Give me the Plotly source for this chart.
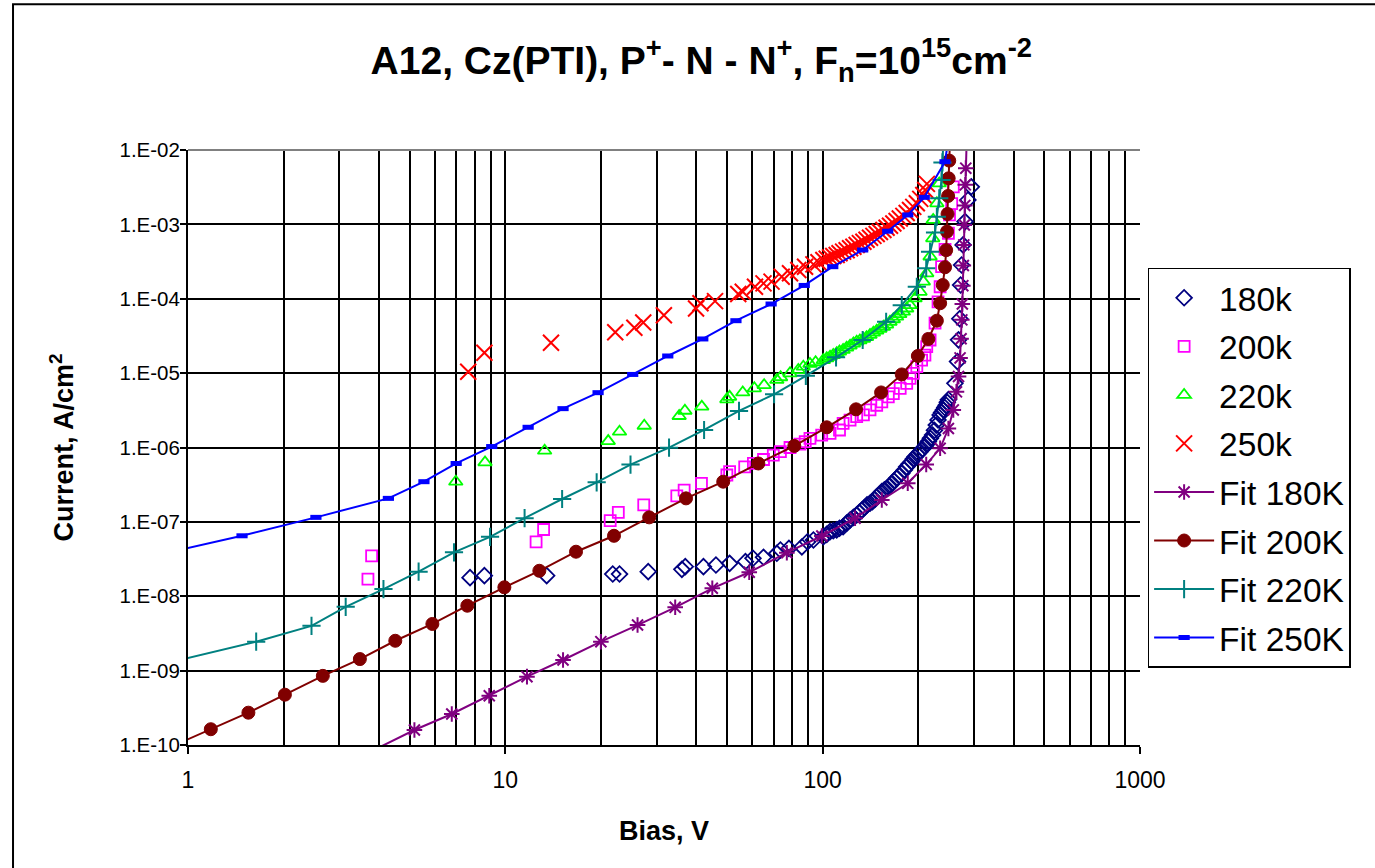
import plotly.graph_objects as go

# ---------------- data ----------------
# Measured points
v_180k = [7.74, 8.59, 13.5, 21.8, 22.9, 28.2, 36.0, 36.9, 42.1, 46.1, 50.9, 57.1, 60.3, 65.1,
          71.7, 73.6, 78.3, 86.0, 89.6, 93.5, 100.5, 105.5, 110.7, 116, 122, 128, 133, 138,
          143.5, 148, 153.6, 159.6, 165.5, 171, 177.5, 184, 190.5, 195.5, 202.7, 210, 215.3,
          222, 228, 234.5, 240, 245, 249, 261, 266, 268, 270.5, 272, 274, 277, 281, 287, 294,
          103, 108, 113, 119, 125, 130.5, 135.5, 141, 146, 151, 156.5, 162.5, 168, 174, 181,
          187, 193, 199, 206, 212.5, 218.5, 225, 231, 237, 242.5, 247]
i_180k = [1.78e-8, 1.89e-8, 1.89e-8, 1.99e-8, 1.99e-8, 2.14e-8, 2.3e-8, 2.5e-8, 2.5e-8, 2.63e-8,
          2.77e-8, 2.92e-8, 3.24e-8, 3.34e-8, 3.78e-8, 4.19e-8, 4.4e-8, 4.6e-8, 5.4e-8, 5.7e-8,
          6.3e-8, 7.4e-8, 7.8e-8, 8.6e-8, 1.06e-7, 1.24e-7, 1.44e-7, 1.69e-7, 1.87e-7, 2.18e-7,
          2.55e-7, 2.83e-7, 3.3e-7, 3.85e-7, 4.5e-7, 5.5e-7, 6.44e-7, 7.5e-7, 8.8e-7, 1.03e-6,
          1.2e-6, 1.47e-6, 2.0e-6, 2.74e-6, 3.2e-6, 3.7e-6, 4.4e-6, 7.3e-6, 1.43e-5, 2.8e-5,
          5.4e-5, 1.53e-4, 2.84e-4, 5.3e-4, 1.09e-3, 2.13e-3, 3.2e-3,
          6.8e-8, 7.6e-8, 8.2e-8, 9.6e-8, 1.15e-7, 1.34e-7, 1.56e-7, 1.78e-7, 2.0e-7, 2.35e-7,
          2.7e-7, 3.05e-7, 3.55e-7, 4.15e-7, 5.0e-7, 5.95e-7, 7.0e-7, 8.1e-7, 9.5e-7, 1.1e-6,
          1.33e-6, 1.7e-6, 2.35e-6, 2.95e-6, 3.45e-6, 4.05e-6]

v_200k = [3.69, 3.79, 12.5, 13.2, 21.4, 22.7, 27.3, 34.7, 36.6, 41.5, 49.9, 50.9, 56.8, 60.5,
          65.1, 69.9, 73.6, 78.9, 84.8, 88.1, 91.2, 99.3, 105.5, 113, 116, 122, 128, 134.4, 141,
          148, 153.6, 161, 167, 175.5, 184, 188.5, 193, 198, 205, 210, 212.8, 218, 226, 231,
          234.5, 237, 243, 249, 251, 255, 258]
i_200k = [1.7e-8, 3.48e-8, 5.4e-8, 7.9e-8, 1.04e-7, 1.34e-7, 1.69e-7, 2.23e-7, 2.68e-7, 3.3e-7,
          4.27e-7, 4.73e-7, 5.5e-7, 6.1e-7, 6.9e-7, 7.9e-7, 8.8e-7, 1.0e-6, 1.11e-6, 1.2e-6,
          1.33e-6, 1.47e-6, 1.55e-6, 1.72e-6, 2.11e-6, 2.34e-6, 2.6e-6, 2.74e-6, 3.2e-6, 3.7e-6,
          4.1e-6, 4.8e-6, 5.3e-6, 6.25e-6, 7.3e-6, 8.5e-6, 9.95e-6, 1.22e-5, 1.5e-5, 1.75e-5,
          2.27e-5, 2.79e-5, 4.7e-5, 9.1e-5, 1.45e-4, 2.7e-4, 4.6e-4, 7.6e-4, 1.34e-3, 1.9e-3,
          3.2e-3]

v_220k = [6.98, 8.63, 13.3, 21.1, 22.9, 27.4, 35.3, 36.8, 41.6, 49.9, 50.9, 56, 60.9, 65.4, 71.7,
          73.7, 78.9, 83.8, 86.9, 91.2, 95, 100.5, 105.5, 110.7, 116, 122, 128, 134.4, 141, 148,
          155.4, 163, 171, 179.6, 188.5, 195.5, 202.7, 207.6, 212.8, 218, 222.3, 223, 229, 233,
          103, 108, 113, 119, 125, 131, 137.5, 144.5, 151.5, 159, 167, 175, 184]
i_220k = [3.47e-7, 6.3e-7, 9.06e-7, 1.22e-6, 1.63e-6, 1.96e-6, 2.65e-6, 3.12e-6, 3.54e-6,
          4.45e-6, 4.8e-6, 5.5e-6, 6.25e-6, 6.9e-6, 8.1e-6, 8.8e-6, 9.95e-6, 1.1e-5, 1.22e-5,
          1.33e-5, 1.4e-5, 1.5e-5, 1.66e-5, 1.85e-5, 2.05e-5, 2.34e-5, 2.65e-5, 2.88e-5, 3.26e-5,
          3.72e-5, 4.2e-5, 4.9e-5, 5.74e-5, 6.7e-5, 8.2e-5, 1.01e-4, 1.24e-4, 1.7e-4, 2.2e-4,
          3.7e-4, 6.5e-4, 1.15e-3, 1.92e-3, 3.56e-3,
          1.58e-5, 1.75e-5, 1.95e-5, 2.2e-5, 2.5e-5, 2.75e-5, 3.05e-5, 3.5e-5, 3.95e-5, 4.5e-5,
          5.3e-5, 6.2e-5, 7.4e-5]

v_250k = [7.64, 8.59, 13.93, 22.2, 25.5, 27.2, 31.6, 39.9, 41.2, 45.8, 54.2, 56, 61.2, 65.1, 69.0,
          74.3, 78.9, 83.8, 88, 93.5, 100.5, 105.5, 110.7, 116, 122, 128, 134.4, 141, 148, 155.4,
          163, 171, 179.6, 188.5, 198, 207.6, 213,
          97, 103, 108, 113, 119, 125, 131, 137.5, 144.5, 151.5, 159, 167, 175, 184, 193, 203,
          210.5]
i_250k = [1.045e-5, 1.88e-5, 2.56e-5, 3.54e-5, 4.08e-5, 4.8e-5, 6.0e-5, 7.4e-5, 8.7e-5, 9.3e-5,
          1.16e-4, 1.24e-4, 1.45e-4, 1.61e-4, 1.7e-4, 1.98e-4, 2.2e-4, 2.43e-4, 2.7e-4, 2.9e-4,
          3.32e-4, 3.6e-4, 3.87e-4, 4.3e-4, 4.77e-4, 5.28e-4, 5.85e-4, 6.62e-4, 7.42e-4, 8.4e-4,
          9.6e-4, 1.11e-3, 1.30e-3, 1.56e-3, 1.92e-3, 2.48e-3, 3.5e-3,
          3.1e-4, 3.45e-4, 3.75e-4, 4.1e-4, 4.5e-4, 5.0e-4, 5.6e-4, 6.2e-4, 7.0e-4, 7.9e-4,
          9.0e-4, 1.03e-3, 1.2e-3, 1.42e-3, 1.72e-3, 2.2e-3, 2.9e-3]

# Fitted curves
v_fit180 = [3.5, 5.17, 6.78, 8.9, 11.7, 15.2, 20.0, 26.1, 34.3, 44.9, 58.7, 77.1, 99.4, 126.5,
            153.6, 185.4, 212, 234.5, 249, 258, 264, 268, 271, 273, 274.5, 275.5, 276.5, 277.5,
            278.5, 279.5, 280.5, 281.5, 282.5, 285]
i_fit180 = [7e-11, 1.59e-10, 2.61e-10, 4.6e-10, 8.3e-10, 1.39e-9, 2.45e-9, 4.1e-9, 7.1e-9,
            1.28e-8, 2.1e-8, 3.85e-8, 6.46e-8, 1.12e-7, 1.97e-7, 3.3e-7, 5.9e-7, 9.75e-7, 1.8e-6,
            3.2e-6, 5.6e-6, 9e-6, 1.6e-5, 2.9e-5, 5.2e-5, 8.5e-5, 1.5e-4, 2.8e-4, 5.3e-4, 9.8e-4,
            1.8e-3, 3.4e-3, 5.7e-3, 2e-2]

v_fit200 = [0.9, 1.18, 1.55, 2.02, 2.66, 3.48, 4.50, 5.89, 7.59, 9.93, 12.8, 16.7, 22.0, 28.4,
            37.1, 48.6, 62.7, 81.4, 103, 127.4, 152.8, 177.5, 199.5, 215.3, 229, 234.5, 239, 243,
            245, 246.5, 247.5, 248.5, 249.5, 250.5, 253]
i_fit200 = [9.8e-11, 1.63e-10, 2.72e-10, 4.75e-10, 8.5e-10, 1.43e-9, 2.52e-9, 4.24e-9, 7.46e-9,
            1.32e-8, 2.2e-8, 3.97e-8, 6.5e-8, 1.15e-7, 2.07e-7, 3.47e-7, 6.1e-7, 1.05e-6, 1.87e-6,
            3.26e-6, 5.5e-6, 9.6e-6, 1.7e-5, 2.88e-5, 5.07e-5, 8.7e-5, 1.53e-4, 2.65e-4, 4.5e-4,
            8e-4, 1.38e-3, 2.41e-3, 4.16e-3, 7.2e-3, 2e-2]

v_fit220 = [0.9, 1.64, 2.45, 3.14, 4.13, 5.33, 6.89, 8.95, 11.5, 15.1, 19.4, 24.8, 32.8, 42.3,
            54.5, 70.3, 88.5, 110.2, 133.7, 158.5, 177.5, 198, 212, 218, 226, 229, 233, 237,
            238.5, 241]
i_fit220 = [1.33e-9, 2.45e-9, 4.0e-9, 7.2e-9, 1.25e-8, 2.14e-8, 3.9e-8, 6.3e-8, 1.12e-7, 2.03e-7,
            3.4e-7, 5.9e-7, 9.95e-7, 1.72e-6, 3.1e-6, 5.2e-6, 9.2e-6, 1.63e-5, 2.79e-5, 4.9e-5,
            8.2e-5, 1.45e-4, 2.57e-4, 4.3e-4, 7.8e-4, 1.27e-3, 2.24e-3, 3.95e-3, 6.8e-3, 2e-2]

v_fit250 = [0.87, 1.48, 2.53, 4.28, 5.54, 7.0, 9.06, 11.8, 15.2, 19.6, 25.2, 32.5, 41.9, 53.3,
            68.8, 87.5, 107.6, 133.7, 160.3, 185.4, 209, 243, 252]
i_fit250 = [3.9e-8, 6.5e-8, 1.15e-7, 2.07e-7, 3.47e-7, 6.1e-7, 1.03e-6, 1.87e-6, 3.33e-6,
            5.46e-6, 9.6e-6, 1.70e-5, 2.88e-5, 5.07e-5, 8.5e-5, 1.51e-4, 2.70e-4, 4.52e-4, 8.1e-4,
            1.34e-3, 2.31e-3, 6.96e-3, 2e-2]

y_tick_vals = [1e-2, 1e-3, 1e-4, 1e-5, 1e-6, 1e-7, 1e-8, 1e-9, 1e-10]
y_tick_text = ["1.E-02", "1.E-03", "1.E-04", "1.E-05", "1.E-06", "1.E-07", "1.E-08", "1.E-09", "1.E-10"]
x_tick_vals = [1, 10, 100, 1000]
x_tick_text = ["1", "10", "100", "1000"]
x_minor_vals = [m * d for d in (1, 10, 100) for m in range(2, 10)]

FONT = "Liberation Sans, Arial, sans-serif"

fig = go.Figure()

def meas(x, y, name, symbol, color, size, lw):
    fig.add_trace(go.Scatter(
        x=x, y=y, name=name, mode="markers", legendgroup=name,
        marker=dict(symbol=symbol, size=size, color=color, line=dict(color=color, width=lw)),
    ))

def fit(x, y, name, symbol, color, size, lw):
    fig.add_trace(go.Scatter(
        x=x, y=y, name=name, mode="lines+markers", legendgroup=name,
        line=dict(color=color, width=2),
        marker=dict(symbol=symbol, size=size, color=color, line=dict(color=color, width=lw)),
    ))

meas(v_180k, i_180k, "180k", "diamond-open", "#000080", 12, 1.8)
meas(v_200k, i_200k, "200k", "square-open", "#FF00FF", 11, 1.8)
meas(v_220k, i_220k, "220k", "triangle-up-open", "#00FF00", 12, 1.8)
meas(v_250k, i_250k, "250k", "x-thin-open", "#FF0000", 16, 2)
fit(v_fit180, i_fit180, "Fit 180K", "asterisk-open", "#800080", 13, 2)
fit(v_fit200, i_fit200, "Fit 200K", "circle", "#800000", 13, 1)
fit(v_fit220, i_fit220, "Fit 220K", "cross-thin-open", "#008080", 13, 2)
fit(v_fit250, i_fit250, "Fit 250K", "line-ew-open", "#0000FF", 8, 5)

fig.update_layout(
    width=1375, height=868,
    margin=dict(l=188, r=235, t=150, b=123),
    paper_bgcolor="white", plot_bgcolor="white",
    font=dict(family=FONT, color="black"),
    title=dict(
        text="<b>A12, Cz(PTI), P<sup>+</sup>- N - N<sup>+</sup>, F<sub>n</sub>=10<sup>15</sup>cm<sup>-2</sup></b>",
        x=0.51, xanchor="center", y=0.931, yanchor="middle",
        font=dict(family=FONT, size=39, color="black"),
    ),
    legend=dict(
        x=1.008, xanchor="left", y=0.8017, yanchor="top",
        bordercolor="black", borderwidth=1.5, bgcolor="white",
        font=dict(family=FONT, size=33.5, color="black"),
        tracegroupgap=2, itemwidth=60,
    ),
    showlegend=True,
)

fig.update_xaxes(
    type="log", range=[0, 3],
    tickvals=x_tick_vals, ticktext=x_tick_text,
    ticks="outside", ticklen=7, tickcolor="black", tickwidth=1.5,
    ticklabelstandoff=6,
    showgrid=True, gridcolor="black", gridwidth=2,
    minor=dict(tickvals=x_minor_vals, showgrid=True, gridcolor="black", gridwidth=2, ticks=""),
    showline=True, linecolor="black", linewidth=2,
    tickfont=dict(family=FONT, size=23, color="black"),
    title=dict(text="<b>Bias, V</b>", font=dict(family=FONT, size=27, color="black"), standoff=30),
    zeroline=False,
)
fig.update_yaxes(
    type="log", range=[-10, -2],
    tickvals=y_tick_vals, ticktext=y_tick_text,
    ticks="outside", ticklen=6, tickcolor="black", tickwidth=1.5,
    ticklabelstandoff=-4,
    showgrid=True, gridcolor="black", gridwidth=2,
    showline=True, linecolor="black", linewidth=2,
    tickfont=dict(family=FONT, size=20.5, color="black"),
    title=dict(text="<b>Current, A/cm<sup>2</sup></b>", font=dict(family=FONT, size=27, color="black"), standoff=38),
    zeroline=False,
)

# top border of plot area in grey, and the outer chart frame
fig.add_shape(type="line", xref="paper", yref="paper", x0=0, x1=1, y0=1, y1=1,
              line=dict(color="#808080", width=2))
fig.add_shape(type="rect", xref="paper", yref="paper", x0=-0.1838, x1=1.30, y0=-0.30, y1=1.245,
              line=dict(color="black", width=2), fillcolor="rgba(0,0,0,0)", layer="below")

fig.write_html("out.html", config={"displayModeBar": False},
               post_script="document.body.style.margin='0';document.body.style.overflow='hidden';")
